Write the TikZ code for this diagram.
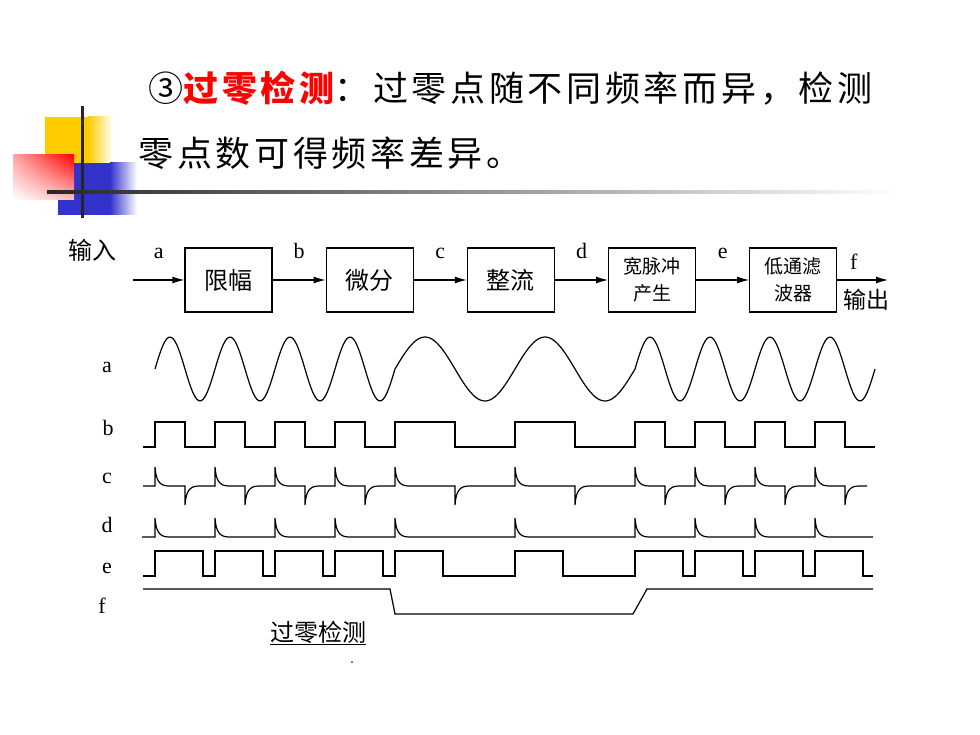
\documentclass[tikz,border=0pt]{standalone}
\usepackage{fontspec}
\newfontfamily\cjk{Noto Sans CJK SC}
\newfontfamily\cjkwide{Noto Sans CJK SC}[LetterSpace=10.5]
\newfontfamily\lat{Liberation Serif}
\usepackage{xcolor}
\usepackage{tikz}
\usetikzlibrary{positioning,arrows.meta,shadings}
\definecolor{slideyellow}{RGB}{255,204,0}
\definecolor{slideblue}{RGB}{51,51,204}
\newcommand{\pxfont}[1]{\fontsize{#1}{#1}\selectfont}% size in px

\begin{document}
\begin{tikzpicture}[x=1pt,y=-1pt,>={Latex[length=12pt,width=7pt]},line width=1.2pt,
  blk/.style={draw,minimum width=87pt,minimum height=64pt,inner sep=0pt,font=\cjk\pxfont{24}},
  sblk/.style={blk,align=center,font=\cjk\fontsize{19}{27}\selectfont},
  sig/.style={midway,anchor=base,yshift=21pt,inner sep=0pt,font=\lat\pxfont{22}},
  row/.style={anchor=base,inner sep=0pt,font=\lat\pxfont{22}}]
\useasboundingbox (0,0) rectangle (980,735);
% Reference grid (temporary)
%\draw[help lines,step=20] (0,0) grid (980,735);

% slide corner
\fill[slideyellow] (45,117) rectangle (88,163);
\shade[left color=slideyellow,right color=white] (88,117) rectangle (113,163);
\fill[slideblue] (58,163) rectangle (110,215);
\shade[left color=slideblue,right color=white] (110,163) rectangle (137,215);
\shade[upper left=red!35,upper right=red,lower left=white,lower right=red!25] (13,155) rectangle (74,200);
\fill[black!85] (80.5,106) rectangle (83.5,218);
\shade[left color=black!85,right color=white] (47,190.5) rectangle (900,193.5);

\node[anchor=west,inner sep=0pt,font=\cjkwide\pxfont{35}] (title) at (148,88)
  {③{\color{red}\bfseries 过零检测}：过零点随不同频率而异，检测};
\node[anchor=west,inner sep=0pt,font=\cjkwide\pxfont{35}] (title2) at (138,153) {零点数可得频率差异。};

% block chain
\coordinate (in) at (133,280);
\node[blk] (xianfu) at (228.5,280) {限幅};
\node[blk,right=53pt of xianfu] (weifen) {微分};
\node[blk,right=53pt of weifen] (zhengliu) {整流};
\node[sblk,right=53pt of zhengliu] (kuanmai) {宽脉冲\\产生};
\node[sblk,right=53pt of kuanmai] (lvbo) {低通滤\\波器};
\coordinate (out) at (888,280);
\draw[->] (in) -- node[sig] {a} (xianfu);
\draw[->] (xianfu) -- node[sig] {b} (weifen);
\draw[->] (weifen) -- node[sig] {c} (zhengliu);
\draw[->] (zhengliu) -- node[sig] {d} (kuanmai);
\draw[->] (kuanmai) -- node[sig] {e} (lvbo);
\draw[->] (lvbo) -- node[sig,yshift=-11pt,xshift=-9pt] {f} (out);
\node[font=\cjk\pxfont{24},inner sep=0pt] (shuru) at (92,250) {输入};
\node[font=\cjk\pxfont{23},inner sep=0pt] (shuchu) at (866,300) {输出};

% waveforms
\node[row] (la) at (107,372) {a};
\node[row] (lb) at (108,435) {b};
\node[row] (lc) at (107,483) {c};
\node[row] (ld) at (107,532) {d};
\node[row] (le) at (107,573) {e};
\node[row] (lf) at (102,613) {f};

\draw[samples=121] plot[domain=155:395] (\x,{369-32*sin(6*(\x-155))})
  -- plot[domain=395:635] (\x,{369-32*sin(3*(\x-395))})
  -- plot[domain=635:875] (\x,{369-32*sin(6*(\x-635))});
\draw (143,447) \foreach \r/\f in {155/185,215/245,275/305,335/365,395/455,515/575,635/665,695/725,755/785,815/845} {
    -- (\r,447) -- (\r,422) -- (\f,422) -- (\f,447) } -- (875,447);
\draw (143,486) \foreach \r/\f in {155/185,215/245,275/305,335/365,395/455,515/575,635/665,695/725,755/785,815/845} {
    -- (\r,486) -- (\r,467) .. controls (\r+1,480) and (\r+4,486) .. (\r+14,486)
    -- (\f,486) -- (\f,505) .. controls (\f+1,492) and (\f+4,486) .. (\f+14,486) } -- (867,486);
\draw (142,537) \foreach \r in {155,215,275,335,395,515,635,695,755,815} {
    -- (\r,537) -- (\r,518) .. controls (\r+1,531) and (\r+4,537) .. (\r+14,537) } -- (873,537);
\draw (143,576) \foreach \r in {155,215,275,335,395,515,635,695,755,815} {
    -- (\r,576) -- (\r,551) -- (\r+48,551) -- (\r+48,576) } -- (873,576);
\draw (143,589) -- (390,589) -- (395,614) -- (633,614) -- (647,589) -- (873,589);

\node[font=\cjk\pxfont{24},inner sep=1pt] (guoling) at (318,633) {\underline{过零检测}};
\fill (352,662) circle (0.9);
\end{tikzpicture}
\end{document}
